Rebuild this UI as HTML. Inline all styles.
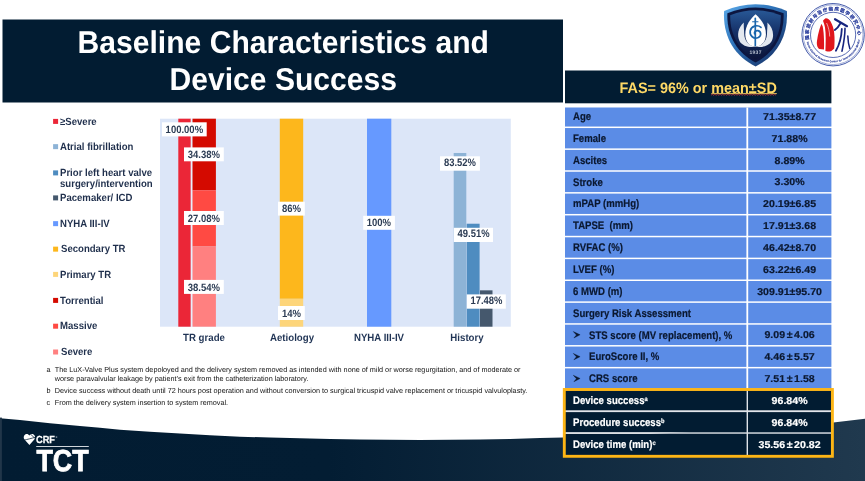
<!DOCTYPE html>
<html lang="en"><head><meta charset="utf-8"><title>Baseline Characteristics and Device Success</title>
<style>
html,body{margin:0;padding:0;background:#fff;}
body{width:865px;height:481px;position:relative;overflow:hidden;text-rendering:geometricPrecision;font-family:"Liberation Sans","Noto Sans CJK SC",sans-serif;}
.abs{position:absolute;}
#title{left:2.5px;top:24.4px;width:560.5px;text-align:center;color:#fff;font-weight:bold;font-size:31.5px;line-height:36.9px;white-space:nowrap;transform:scaleX(0.955);}
.lg{position:absolute;left:60.4px;font-weight:bold;font-size:10.4px;line-height:10.8px;color:#1f2f4c;white-space:nowrap;}
.lg span{display:inline-block;transform:scaleX(0.922);transform-origin:0 50%;}
.dl{position:absolute;color:#2b3b53;font-weight:bold;font-size:10.6px;height:14px;line-height:14.6px;text-align:center;white-space:nowrap;transform:scaleX(0.896);}
.dh{font-size:10.9px;transform:scaleX(0.865);margin-top:-0.9px;}
.cat{position:absolute;top:333.2px;font-weight:bold;font-size:10.4px;color:#1f3354;white-space:nowrap;transform:translateX(-50%) scaleX(0.93);line-height:12px;}
.fn{position:absolute;left:46.5px;font-size:7.26px;line-height:9.7px;color:#141414;white-space:nowrap;}
.fn b{font-weight:normal;position:absolute;left:8.3px;}
#thead{left:565px;top:70.5px;width:266.3px;height:32.8px;color:#ffd966;font-weight:bold;font-size:15.1px;line-height:36.2px;text-align:center;white-space:nowrap;transform:scaleX(0.955);}
.rl{position:absolute;left:572.9px;color:#0b1830;font-weight:bold;font-size:11px;line-height:12px;white-space:nowrap;transform:scaleX(0.872);transform-origin:0 50%;-webkit-text-stroke:0.2px currentColor;}
.rv{position:absolute;left:748.2px;width:83.2px;color:#0b1830;font-weight:bold;font-size:10px;line-height:12px;white-space:nowrap;text-align:center;transform:scaleX(1.06);-webkit-text-stroke:0.2px currentColor;}
.dk{color:#fff;}
.rv i{font-style:normal;margin:0 1.5px;}
.rl sup{font-size:6.5px;vertical-align:baseline;position:relative;top:-3px;}
</style></head><body>
<svg class="abs" style="left:0;top:0" width="865" height="481" viewBox="0 0 865 481">
<defs><linearGradient id="fg" x1="0" y1="0" x2="1" y2="0"><stop offset="0" stop-color="#021c32"/><stop offset="0.38" stop-color="#031d33"/><stop offset="1" stop-color="#20394e"/></linearGradient></defs>
<path d="M0,418.3 L20,420 L50,423.2 L80,426 L100,427.8 L120,429.7 L150,431.8 L180,433.6 L210,435.3 L240,436.7 L270,437.6 L300,438.3 L330,439 L360,439.4 L420,439.9 L480,439.4 L510,438.9 L540,438 L563,437.4 L630,434.9 L700,431.5 L770,427.2 L833.4,422.5 L865,418.8 L865,481 L0,481 Z" fill="url(#fg)"/>
<rect x="0.00" y="417.60" width="1.90" height="63.40" fill="#213649"/>
<rect x="2.50" y="19.50" width="560.50" height="83.00" fill="#021c32"/>
<rect x="160.00" y="118.70" width="350.80" height="208.00" fill="#dce6f8"/>
<rect x="178.30" y="118.70" width="12.50" height="208.00" fill="#eb2637"/>
<rect x="190.80" y="118.70" width="1.70" height="208.00" fill="#e9eefb"/>
<rect x="192.50" y="118.70" width="23.40" height="71.51" fill="#d40a00"/>
<rect x="192.50" y="190.21" width="23.40" height="56.33" fill="#ff4a43"/>
<rect x="192.50" y="246.54" width="23.40" height="80.16" fill="#ff8080"/>
<rect x="279.80" y="118.70" width="23.40" height="180.10" fill="#fdb71c"/>
<rect x="279.80" y="298.80" width="23.40" height="27.90" fill="#fdd57a"/>
<rect x="367.00" y="118.70" width="24.30" height="208.00" fill="#6699ff"/>
<rect x="453.70" y="152.98" width="12.60" height="173.72" fill="#8db3d6"/>
<rect x="466.70" y="223.72" width="12.90" height="102.98" fill="#4e8cc0"/>
<rect x="480.00" y="290.34" width="12.50" height="36.36" fill="#45586d"/>
<rect x="162.00" y="122.30" width="44.70" height="14.10" fill="#fff"/>
<rect x="184.00" y="147.40" width="39.80" height="13.90" fill="#fff"/>
<rect x="184.00" y="211.00" width="39.80" height="14.00" fill="#fff"/>
<rect x="184.00" y="279.90" width="39.80" height="14.00" fill="#fff"/>
<rect x="278.00" y="201.70" width="26.80" height="13.90" fill="#fff"/>
<rect x="278.00" y="306.00" width="26.80" height="14.00" fill="#fff"/>
<rect x="363.20" y="215.80" width="31.70" height="14.00" fill="#fff"/>
<rect x="440.00" y="156.30" width="39.90" height="14.40" fill="#fff"/>
<rect x="453.80" y="227.80" width="39.20" height="14.20" fill="#fff"/>
<rect x="466.80" y="294.40" width="39.00" height="14.30" fill="#fff"/>
<rect x="53.10" y="118.90" width="5.00" height="5.00" fill="#eb2637"/>
<rect x="53.10" y="144.15" width="5.00" height="5.00" fill="#8db3d6"/>
<rect x="53.10" y="170.40" width="5.00" height="5.00" fill="#4e8cc0"/>
<rect x="53.10" y="195.40" width="5.00" height="5.00" fill="#45586d"/>
<rect x="53.10" y="221.15" width="5.00" height="5.00" fill="#6699ff"/>
<rect x="53.10" y="246.65" width="5.00" height="5.00" fill="#fdb71c"/>
<rect x="53.10" y="271.90" width="5.00" height="5.00" fill="#fdd57a"/>
<rect x="53.10" y="297.90" width="5.00" height="5.00" fill="#d40a00"/>
<rect x="53.10" y="323.70" width="5.00" height="5.00" fill="#ff4a43"/>
<rect x="53.10" y="349.50" width="5.00" height="5.00" fill="#ff8080"/>
<rect x="565.00" y="70.50" width="266.40" height="32.80" fill="#021c32"/>
<rect x="565.00" y="107.50" width="266.40" height="19.05" fill="#5b8ce6"/>
<rect x="565.00" y="128.05" width="266.40" height="20.35" fill="#5b8ce6"/>
<rect x="565.00" y="149.90" width="266.40" height="20.35" fill="#5b8ce6"/>
<rect x="565.00" y="171.75" width="266.40" height="20.35" fill="#5b8ce6"/>
<rect x="565.00" y="193.60" width="266.40" height="20.35" fill="#5b8ce6"/>
<rect x="565.00" y="215.45" width="266.40" height="20.35" fill="#5b8ce6"/>
<rect x="565.00" y="237.30" width="266.40" height="20.35" fill="#5b8ce6"/>
<rect x="565.00" y="259.15" width="266.40" height="20.35" fill="#5b8ce6"/>
<rect x="565.00" y="281.00" width="266.40" height="20.35" fill="#5b8ce6"/>
<rect x="565.00" y="302.85" width="266.40" height="20.35" fill="#5b8ce6"/>
<rect x="565.00" y="324.70" width="266.40" height="20.35" fill="#5b8ce6"/>
<rect x="565.00" y="346.55" width="266.40" height="20.35" fill="#5b8ce6"/>
<rect x="565.00" y="368.40" width="266.40" height="20.35" fill="#5b8ce6"/>
<rect x="565.00" y="390.25" width="266.40" height="20.35" fill="#021c32"/>
<rect x="565.00" y="410.50" width="266.40" height="1.40" fill="#dfe3e8"/>
<rect x="565.00" y="412.10" width="266.40" height="20.35" fill="#021c32"/>
<rect x="565.00" y="432.35" width="266.40" height="1.40" fill="#dfe3e8"/>
<rect x="565.00" y="433.95" width="266.40" height="22.05" fill="#021c32"/>
<rect x="746.40" y="107.50" width="1.80" height="282.00" fill="#fff"/>
<rect x="746.60" y="389.50" width="1.40" height="66.50" fill="#dfe3e8"/>
<path transform="translate(573.3,331.57)" d="M0,0 L6.8,3.2 L0.6,6.4 L3.1,3.4 Z" fill="#0b1830" stroke="#0b1830" stroke-width="0.4"/>
<path transform="translate(573.3,353.43)" d="M0,0 L6.8,3.2 L0.6,6.4 L3.1,3.4 Z" fill="#0b1830" stroke="#0b1830" stroke-width="0.4"/>
<path transform="translate(573.3,375.28)" d="M0,0 L6.8,3.2 L0.6,6.4 L3.1,3.4 Z" fill="#0b1830" stroke="#0b1830" stroke-width="0.4"/>
<rect x="711.30" y="93.20" width="65.50" height="0.90" fill="#ffd966"/>
<polyline points="711.0,95.3 712.3,94.2 713.6,95.3 714.9,94.2 716.2,95.3 717.5,94.2 718.8,95.3 720.1,94.2 721.4,95.3 722.7,94.2 724.0,95.3 725.3,94.2 726.6,95.3 727.9,94.2 729.2,95.3 730.5,94.2 731.8,95.3 733.1,94.2 734.4,95.3 735.7,94.2 737.0,95.3 738.3,94.2 739.6,95.3 740.9,94.2 742.2,95.3 743.5,94.2 744.8,95.3 746.1,94.2 747.4,95.3 748.7,94.2 750.0,95.3 751.3,94.2 752.6,95.3 753.9,94.2 755.2,95.3 756.5,94.2 757.8,95.3 759.1,94.2 760.4,95.3 761.7,94.2 763.0,95.3 764.3,94.2 765.6,95.3 766.9,94.2 768.2,95.3 769.5,94.2 770.8,95.3 772.1,94.2 773.4,95.3 774.7,94.2 776.0,95.3" fill="none" stroke="#e0323a" stroke-width="0.7"/>
<rect x="564.3" y="389.5" width="268.1" height="66.8" fill="none" stroke="#fdb515" stroke-width="2.9"/>
</svg>
<div id="title" class="abs">Baseline Characteristics and<br>Device Success</div>
<div class="lg" style="top:117.50px;"><span>≥Severe</span></div>
<div class="lg" style="top:142.75px;"><span>Atrial fibrillation</span></div>
<div class="lg" style="top:169.00px;"><span>Prior left heart valve<br>surgery/intervention</span></div>
<div class="lg" style="top:194.00px;"><span>Pacemaker/ ICD</span></div>
<div class="lg" style="top:219.75px;"><span>NYHA III-IV</span></div>
<div class="lg" style="top:245.25px;margin-left:1px;"><span>Secondary TR</span></div>
<div class="lg" style="top:270.50px;"><span>Primary TR</span></div>
<div class="lg" style="top:296.50px;"><span>Torrential</span></div>
<div class="lg" style="top:322.30px;"><span>Massive</span></div>
<div class="lg" style="top:348.10px;margin-left:1px;"><span>Severe</span></div>
<div class="dl" style="left:162.00px;top:122.95px;width:44.70px">100.00%</div>
<div class="dl" style="left:184.00px;top:147.95px;width:39.80px">34.38%</div>
<div class="dl" style="left:184.00px;top:211.60px;width:39.80px">27.08%</div>
<div class="dl" style="left:184.00px;top:280.50px;width:39.80px">38.54%</div>
<div class="dl" style="left:278.00px;top:202.25px;width:26.80px">86%</div>
<div class="dl" style="left:278.00px;top:306.60px;width:26.80px">14%</div>
<div class="dl" style="left:363.20px;top:216.40px;width:31.70px">100%</div>
<div class="dl dh" style="left:440.00px;top:156.50px;width:39.90px">83.52%</div>
<div class="dl dh" style="left:453.80px;top:227.90px;width:39.20px">49.51%</div>
<div class="dl dh" style="left:466.80px;top:294.55px;width:39.00px">17.48%</div>
<div class="cat" style="left:204.1px">TR grade</div>
<div class="cat" style="left:291.9px">Aetiology</div>
<div class="cat" style="left:379.2px">NYHA III-IV</div>
<div class="cat" style="left:466.5px">History</div>
<div class="fn" style="top:364.5px">a<b>The LuX-Valve Plus system depoloyed and the delivery system removed as intended with none of mild or worse regurgitation, and of moderate or<br>worse paravalvular leakage by patient’s exit from the catheterization laboratory.</b></div>
<div class="fn" style="top:385.9px">b<b>Device success without death until 72 hours post operation and without conversion to surgical tricuspid valve replacement or tricuspid valvuloplasty.</b></div>
<div class="fn" style="top:397.9px">c<b>From the delivery system insertion to system removal.</b></div>
<div id="thead" class="abs">FAS= 96% or mean±SD</div>
<div class="rl" style="top:111.03px;">Age</div><div class="rv" style="top:111.73px">71.35±8.77</div>
<div class="rl" style="top:132.92px;">Female</div><div class="rv" style="top:133.72px">71.88%</div>
<div class="rl" style="top:154.78px;">Ascites</div><div class="rv" style="top:155.58px">8.89%</div>
<div class="rl" style="top:176.62px;">Stroke</div><div class="rv" style="top:177.43px">3.30%</div>
<div class="rl" style="top:198.48px;">mPAP (mmHg)</div><div class="rv" style="top:199.28px">20.19±6.85</div>
<div class="rl" style="top:220.32px;">TAPSE&nbsp; (mm)</div><div class="rv" style="top:221.12px">17.91±3.68</div>
<div class="rl" style="top:242.18px;">RVFAC (%)</div><div class="rv" style="top:242.98px">46.42±8.70</div>
<div class="rl" style="top:264.03px;">LVEF (%)</div><div class="rv" style="top:264.83px">63.22±6.49</div>
<div class="rl" style="top:285.88px;">6 MWD (m)</div><div class="rv" style="top:286.68px">309.91±95.70</div>
<div class="rl" style="top:307.73px;">Surgery Risk Assessment</div><div class="rv" style="top:308.53px"></div>
<div class="rl" style="top:329.57px;left:589.3px;">STS score (MV replacement), %</div><div class="rv" style="top:330.38px">9.09<i>±</i>4.06</div>
<div class="rl" style="top:351.43px;left:589.3px;">EuroScore II, %</div><div class="rv" style="top:352.23px">4.46<i>±</i>5.57</div>
<div class="rl" style="top:373.28px;left:589.3px;">CRS score</div><div class="rv" style="top:374.08px">7.51<i>±</i>1.58</div>
<div class="rl dk" style="top:395.13px;">Device success<sup>a</sup></div><div class="rv dk" style="top:395.93px">96.84%</div>
<div class="rl dk" style="top:416.98px;">Procedure success<sup>b</sup></div><div class="rv dk" style="top:417.78px">96.84%</div>
<div class="rl dk" style="top:438.83px;">Device time (min)<sup>c</sup></div><div class="rv dk" style="top:439.63px">35.56<i>±</i>20.82</div>
<svg class="abs" style="left:720px;top:0" width="145" height="70" viewBox="720 0 145 70">
<defs>
<linearGradient id="sh1" x1="0" y1="0" x2="1" y2="1"><stop offset="0" stop-color="#5cabea"/><stop offset="0.4" stop-color="#2f74ba"/><stop offset="1" stop-color="#112457"/></linearGradient>
<linearGradient id="sh2" x1="0" y1="0" x2="0" y2="1"><stop offset="0" stop-color="#285896"/><stop offset="0.45" stop-color="#153067"/><stop offset="1" stop-color="#0b1438"/></linearGradient>
<path id="arcT" d="M810.08,43.28 A24.5,24.5 0 1 1 856.12,43.28"/>
<path id="arcB" d="M806.6,41.5 A27.2,27.2 0 0 0 859.9,39.5"/>
</defs>
<path d="M724.1,10.9 Q755.5,-2.5 786.9,10.9 C788.4,36 777,56 755.6,66.4 C734,56 722.6,36 724.1,10.9 Z" fill="url(#sh1)"/>
<path d="M727.4,13.2 Q755.5,1.6 783.6,13.2 C784.6,35 774.4,53 755.6,62.6 C736.8,53 726.4,35 727.4,13.2 Z" fill="#0c1640"/>
<path d="M730.2,15.2 Q755.5,5.1 780.8,15.2 C781.4,34.4 772.2,50.6 755.6,59.4 C739,50.6 729.8,34.4 730.2,15.2 Z" fill="url(#sh2)"/>
<path d="M743.8,22.6 C738.2,27.6 736.6,35.4 739.6,41.2 C742.4,46 749,47.6 754.5,46.8 C748,44.8 744.4,40 744.2,34 C744.1,29.6 743.6,26 743.8,22.6 Z" fill="#e3e8ef"/>
<path d="M767.4,22.6 C773,27.6 774.6,35.4 771.6,41.2 C768.8,46 762.2,47.6 756.7,46.8 C763.2,44.8 766.8,40 767,34 C767.1,29.6 767.6,26 767.4,22.6 Z" fill="#e3e8ef"/>
<path d="M755.6,14.2 C760.8,19 766.2,25.5 765.9,35 C765.6,42.6 760.8,46.6 755.6,46.8 C750.4,46.6 745.6,42.6 745.3,35 C745,25.5 750.4,19 755.6,14.2 Z" fill="#fff"/>
<g fill="none" stroke="#1b66ac" stroke-linecap="round">
<path d="M755.3,18.4 L755.3,45.6" stroke-width="1.7"/>
<path d="M752.6,21.8 L758,21.8" stroke-width="1.1"/>
<path d="M761,27.4 C757.4,24.2 751.2,26 750.2,31 C749.4,36 753.8,39 757.8,37.8 C761.6,36.6 761.6,31.4 758,30.6 C755.6,30.2 754,32 754.6,33.8" stroke-width="1.7"/>
</g>
<text x="755.6" y="54.3" font-family="'Liberation Sans',sans-serif" font-size="5" font-weight="bold" fill="#b9c2d1" text-anchor="middle" letter-spacing="0.3">1937</text>
<circle cx="833.1" cy="34.7" r="31.2" fill="#fff" stroke="#3c53a6" stroke-width="0.95"/>
<circle cx="833.1" cy="34.7" r="29.9" fill="none" stroke="#4a60ae" stroke-width="0.5"/>
<circle cx="833.1" cy="34.9" r="22.6" fill="none" stroke="#3c53a6" stroke-width="0.85"/>
<text font-family="'Liberation Sans','Noto Sans CJK SC',sans-serif" font-size="4.5" font-weight="bold" fill="#24389a" stroke="#24389a" stroke-width="0.22"><textPath href="#arcT" startOffset="47.7%" text-anchor="middle" textLength="82" lengthAdjust="spacing">国家放射与治疗临床医学研究中心</textPath></text>
<text font-family="'Liberation Sans',sans-serif" font-size="2.5" font-weight="bold" fill="#2b3f9b" stroke="#2b3f9b" stroke-width="0.12"><textPath href="#arcB" startOffset="50%" text-anchor="middle" textLength="80" lengthAdjust="spacing">National Clinical Research Center for Interventional Medicine</textPath></text>
<path d="M821.4,24 C819.5,28 817.4,36 816.8,43 C816.8,46 817.8,48.2 819.4,49 L824,49.4 C824.2,42 824,34 823,28 C822.6,26 822,24.6 821.4,24 Z" fill="#e0161c"/>
<path d="M825.3,18.4 C827.5,18 829.5,19.6 830.6,21.6 C832.6,25 833.8,29 834.2,33 C834.8,38 834.6,44 834.2,48.4 C832.4,50.6 830,51.8 827.6,51.6 L825.4,51 C825.8,43 826,34 825,27.6 C824.6,25 823.6,22.6 823,20.8 C823.6,19.6 824.4,18.8 825.3,18.4 Z" fill="#e0161c"/>
<path d="M826.6,23 C828.4,27 829.6,31.5 829.7,36.5" fill="none" stroke="#fff" stroke-width="0.6"/>
<g fill="none" stroke="#17257f" stroke-linecap="round" stroke-linejoin="round">
<path d="M835,19.2 L847,26.2" stroke-width="2.2"/>
<path d="M840.5,23.2 C839,26 837,28.5 834.8,30" stroke-width="1.8"/>
<path d="M841.8,29 C841.5,36 839.8,44 835.9,50.8" stroke-width="1.8"/>
<path d="M845,28.4 C845,36 843.5,44 842,51.2" stroke-width="1.6"/>
<path d="M847.8,36 C848,41 848.6,45 849.8,48.5" stroke-width="1.5"/>
</g>
</svg>
<svg class="abs" style="left:20px;top:430px" width="80" height="48" viewBox="20 430 80 48">
<path d="M29.4,445 L24.5,439.6 C23.2,437.9 23.5,435.5 25.2,434.4 C26.7,433.5 28.5,434 29.4,435.5 C30.3,434 32.1,433.5 33.6,434.4 C35.3,435.5 35.6,437.9 34.3,439.6 Z" fill="#fff"/>
<path d="M24,440.2 C27,439.4 31.5,438.4 35.2,437.3" fill="none" stroke="#031b30" stroke-width="0.75"/>
<path d="M30.6,434.2 L34.6,438" fill="none" stroke="#031b30" stroke-width="0.75"/>
<text x="36" y="443.1" text-rendering="geometricPrecision" font-family="'Liberation Sans',sans-serif" font-weight="bold" font-size="10.3" fill="#fff" stroke="#fff" stroke-width="0.25" textLength="18.9" lengthAdjust="spacingAndGlyphs">CRF</text>
<text x="55.6" y="437.6" font-family="'Liberation Sans',sans-serif" font-size="2.6" fill="#d5dae0">®</text>
<rect x="36.2" y="446" width="52.6" height="1" fill="#cfd5db"/>
<text x="36.4" y="471.4" text-rendering="geometricPrecision" font-family="'Liberation Sans',sans-serif" font-weight="bold" font-size="30.4" fill="#fff" stroke="#fff" stroke-width="0.8" textLength="52.2" lengthAdjust="spacingAndGlyphs">TCT</text>
</svg>
</body></html>
